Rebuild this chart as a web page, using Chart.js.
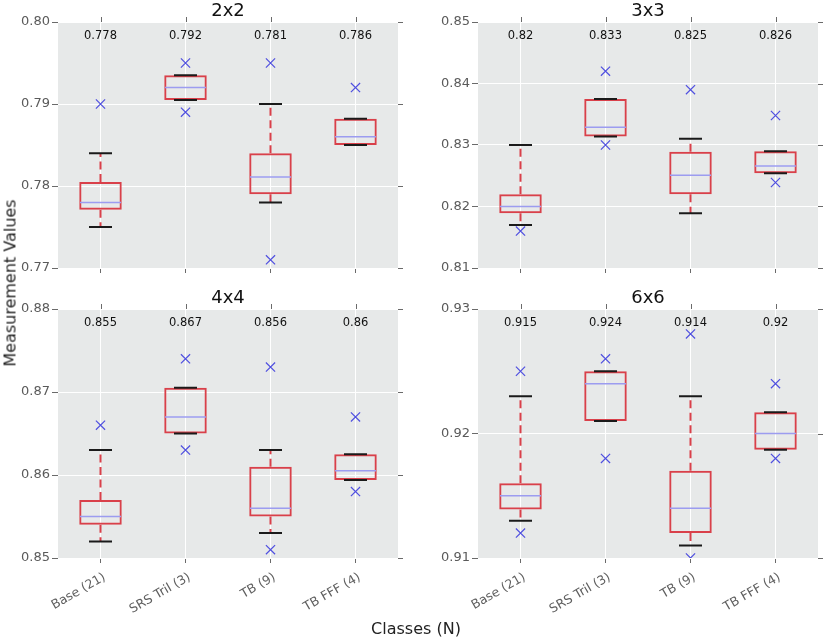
<!DOCTYPE html>
<html>
<head>
<meta charset="utf-8">
<script src="https://cdn.jsdelivr.net/npm/chart.js@4/dist/chart.umd.min.js"></script>
<style>
  html, body { margin: 0; padding: 0; background: #fff; }
  #wrap { position: relative; width: 840px; height: 638px; overflow: hidden; font-family: 'DejaVu Sans', sans-serif; }
  canvas { position: absolute; }
  .axis-title { position: absolute; font-size: 16px; color: #222; white-space: nowrap; }
</style>
</head>
<body>
<div id="wrap">
  <canvas id="p0" width="420" height="290" style="left:0;top:0"></canvas>
  <canvas id="p1" width="420" height="290" style="left:420px;top:0"></canvas>
  <canvas id="p2" width="420" height="368" style="left:0;top:270px"></canvas>
  <canvas id="p3" width="420" height="368" style="left:420px;top:270px"></canvas>
  <div class="axis-title" style="left:10px;top:283px;transform:translate(-50%,-50%) rotate(-90deg)">Measurement Values</div>
  <div class="axis-title" style="left:416px;top:628px;transform:translate(-50%,-50%)">Classes (N)</div>
</div>
<script>
// data
const categories = ['Base (21)', 'SRS Tril (3)', 'TB (9)', 'TB FFF (4)'];
const panelTitles = ['2x2', '3x3', '4x4', '6x6'];
const yMin = [0.77, 0.81, 0.85, 0.91];
const yMax = [0.80, 0.85, 0.88, 0.93];

const whiskerLow = [
  [0.775, 0.7905, 0.778, 0.785],
  [0.817, 0.8314, 0.8189, 0.8254],
  [0.852, 0.865, 0.853, 0.8594],
  [0.913, 0.921, 0.911, 0.9187]
];
const boxLow = [
  [0.7771, 0.7905, 0.779, 0.785],
  [0.8189, 0.8314, 0.822, 0.8254],
  [0.854, 0.865, 0.855, 0.8594],
  [0.9139, 0.921, 0.912, 0.9187]
];
const medians = [
  [0.778, 0.792, 0.7811, 0.786],
  [0.820, 0.8329, 0.8251, 0.8266],
  [0.855, 0.867, 0.856, 0.8605],
  [0.915, 0.924, 0.914, 0.920]
];
const boxHigh = [
  [0.7805, 0.7935, 0.784, 0.7882],
  [0.822, 0.8375, 0.8289, 0.829],
  [0.857, 0.8705, 0.861, 0.8625],
  [0.916, 0.925, 0.917, 0.9217]
];
const whiskerHigh = [
  [0.784, 0.7935, 0.790, 0.7882],
  [0.830, 0.8375, 0.831, 0.829],
  [0.863, 0.8705, 0.863, 0.8625],
  [0.923, 0.925, 0.923, 0.9217]
];
const outliers = [
  [[0.790], [0.795, 0.789], [0.795, 0.771], [0.792]],
  [[0.816], [0.842, 0.830], [0.839], [0.8348, 0.8239]],
  [[0.866], [0.874, 0.863], [0.873, 0.851], [0.867, 0.858]],
  [[0.925, 0.912], [0.926, 0.918], [0.928, 0.910], [0.924, 0.918]]
];
const topLabels = [
  ['0.778', '0.792', '0.781', '0.786'],
  ['0.82', '0.833', '0.825', '0.826'],
  ['0.855', '0.867', '0.856', '0.86'],
  ['0.915', '0.924', '0.914', '0.92']
];

const BOX_RED = '#d9404a';
const MEDIAN = '#9c9cf0';
const FLIER = '#4f4fe0';
const TICK_GREY = '#6a6a6a';

Chart.defaults.font.family = "'DejaVu Sans', sans-serif";

// plot frames inside each canvas
const frames = [
  { padTop: 19, padRight: 10, yW: 58, xH: 21, showX: false },
  { padTop: 19, padRight: 11, yW: 58, xH: 21, showX: false },
  { padTop: 39, padRight: 10, yW: 58, xH: 80, showX: true },
  { padTop: 39, padRight: 11, yW: 58, xH: 80, showX: true }
];

const boxExtras = {
  id: 'boxExtras',
  beforeDraw(chart) {
    const a = chart.chartArea, ctx = chart.ctx;
    ctx.save();
    ctx.fillStyle = '#e7e9e9';
    ctx.fillRect(a.left, a.top, a.right - a.left, a.bottom - a.top);
    ctx.restore();
  },
  beforeDatasetsDraw(chart) {
    const p = chart.options.plugins.boxExtras.panel;
    const xs = chart.scales.x, ys = chart.scales.y, ctx = chart.ctx;
    ctx.save();
    ctx.strokeStyle = BOX_RED;
    ctx.lineWidth = 2;
    ctx.setLineDash([8, 4.5]);
    categories.forEach((c, i) => {
      const x = xs.getPixelForValue(i);
      ctx.beginPath();
      ctx.moveTo(x, ys.getPixelForValue(boxHigh[p][i]));
      ctx.lineTo(x, ys.getPixelForValue(whiskerHigh[p][i]));
      ctx.moveTo(x, ys.getPixelForValue(boxLow[p][i]));
      ctx.lineTo(x, ys.getPixelForValue(whiskerLow[p][i]));
      ctx.stroke();
    });
    ctx.restore();
  },
  afterDraw(chart) {
    const p = chart.options.plugins.boxExtras.panel;
    const a = chart.chartArea, xs = chart.scales.x, ys = chart.scales.y, ctx = chart.ctx;
    ctx.save();
    // tick marks on top and right edges
    ctx.strokeStyle = TICK_GREY;
    ctx.lineWidth = 1;
    ctx.beginPath();
    xs.ticks.forEach((t, i) => {
      const x = Math.round(xs.getPixelForTick(i)) + 0.5;
      ctx.moveTo(x, a.top - 5);
      ctx.lineTo(x, a.top);
    });
    ys.ticks.forEach((t, i) => {
      const y = Math.round(ys.getPixelForTick(i)) + 0.5;
      ctx.moveTo(a.right, y);
      ctx.lineTo(a.right + 5, y);
    });
    ctx.stroke();
    // panel title
    ctx.fillStyle = '#111';
    ctx.textAlign = 'center';
    ctx.textBaseline = 'alphabetic';
    ctx.font = "18px 'DejaVu Sans'";
    ctx.fillText(panelTitles[p], (a.left + a.right) / 2, a.top - 6);
    // labels along the top
    ctx.font = "11.5px 'DejaVu Sans'";
    topLabels[p].forEach((s, i) => {
      ctx.fillText(s, xs.getPixelForValue(i), a.top + 17);
    });
    // rotated category labels (bottom row only), right end under the tick
    if (frames[p].showX) {
      ctx.fillStyle = '#5f5f5f';
      ctx.font = "12.5px 'DejaVu Sans'";
      ctx.textAlign = 'right';
      ctx.textBaseline = 'top';
      categories.forEach((c, i) => {
        ctx.save();
        ctx.translate(xs.getPixelForValue(i) + 1, a.bottom + 13);
        ctx.rotate(-30 * Math.PI / 180);
        ctx.fillText(c, 0, 0);
        ctx.restore();
      });
    }
    ctx.restore();
  }
};

function makePanel(p) {
  const f = frames[p];
  const flierPoints = [];
  outliers[p].forEach((list, i) => list.forEach(v => flierPoints.push({ x: categories[i], y: v })));

  new Chart(document.getElementById('p' + p), {
    type: 'bar',
    data: {
      labels: categories,
      datasets: [
        {
          label: 'box',
          data: categories.map((c, i) => [boxLow[p][i], boxHigh[p][i]]),
          backgroundColor: 'rgba(0,0,0,0)',
          borderColor: BOX_RED,
          borderWidth: 2,
          borderSkipped: false,
          barPercentage: 0.5,
          categoryPercentage: 1,
          grouped: false,
          order: 4
        },
        {
          type: 'line',
          label: 'caps low',
          data: whiskerLow[p],
          showLine: false,
          pointStyle: 'line',
          pointRadius: 11.5,
          pointBorderWidth: 2,
          pointBorderColor: '#1a1a1a',
          order: 3
        },
        {
          type: 'line',
          label: 'caps high',
          data: whiskerHigh[p],
          showLine: false,
          pointStyle: 'line',
          pointRadius: 11.5,
          pointBorderWidth: 2,
          pointBorderColor: '#1a1a1a',
          order: 2
        },
        {
          type: 'line',
          label: 'median',
          data: medians[p],
          showLine: false,
          pointStyle: 'line',
          pointRadius: 20.5,
          pointBorderWidth: 1.5,
          pointBorderColor: MEDIAN,
          order: 1
        },
        {
          type: 'line',
          label: 'outliers',
          data: flierPoints,
          showLine: false,
          pointStyle: 'crossRot',
          pointRadius: 6.5,
          pointBorderWidth: 1.2,
          pointBorderColor: FLIER,
          clip: 0,
          order: 0
        }
      ]
    },
    options: {
      responsive: false,
      animation: false,
      devicePixelRatio: 1,
      events: [],
      layout: { padding: { top: f.padTop, right: f.padRight, left: 0, bottom: 0 } },
      plugins: {
        legend: { display: false },
        tooltip: { enabled: false },
        boxExtras: { panel: p }
      },
      scales: {
        x: {
          offset: true,
          border: { display: false },
          grid: { offset: false, color: '#ffffff', lineWidth: 1, tickColor: TICK_GREY, tickLength: 5 },
          ticks: { display: false, autoSkip: false },
          afterFit(s) { s.height = f.xH; }
        },
        y: {
          min: yMin[p],
          max: yMax[p],
          border: { display: false },
          grid: { color: '#ffffff', lineWidth: 1, tickColor: TICK_GREY, tickLength: 6 },
          ticks: {
            stepSize: 0.01,
            color: '#5a5a5a',
            font: { size: 13 },
            padding: 2,
            callback: v => v.toFixed(2)
          },
          afterFit(s) { s.width = f.yW; }
        }
      }
    },
    plugins: [boxExtras]
  });
}

[0, 1, 2, 3].forEach(makePanel);
</script>
</body>
</html>
